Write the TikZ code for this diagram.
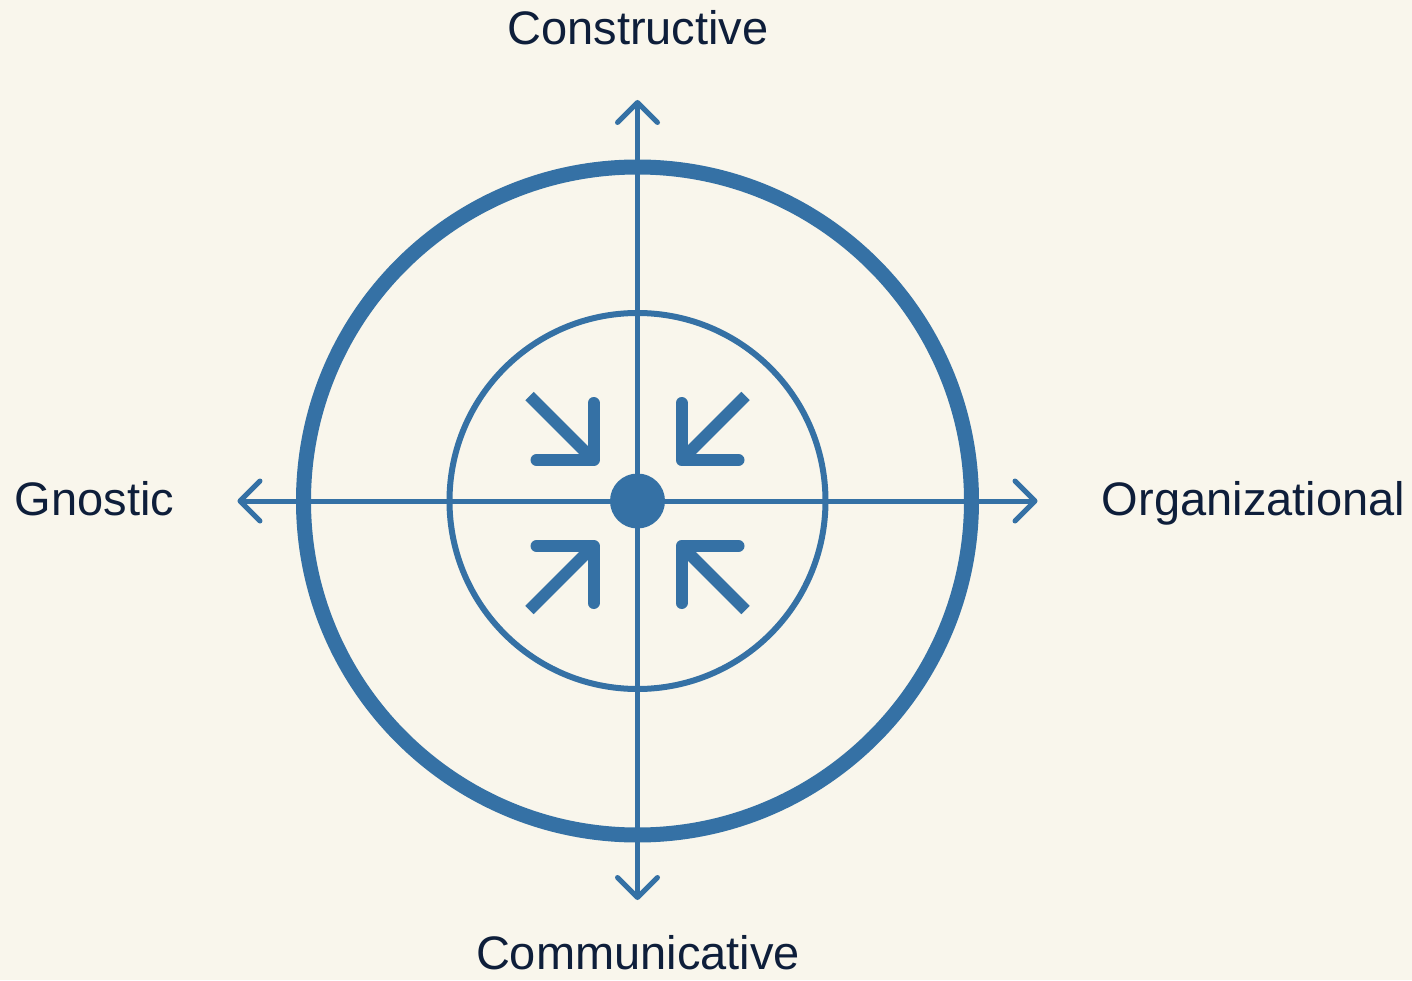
\documentclass[tikz,border=0pt]{standalone}
\usepackage{fontspec}
\setmainfont{Liberation Sans}
\usetikzlibrary{arrows.meta}
\definecolor{CompassBlue}{RGB}{53,113,165}
\definecolor{CompassInk}{RGB}{14,30,58}
\definecolor{CompassPaper}{RGB}{249,246,236}

\begin{document}
\begin{tikzpicture}[x=1pt, y=1pt,
    axis/.style={CompassBlue, line width=5pt,
        {Straight Barb[length=20pt,width=40pt,round]}-{Straight Barb[length=20pt,width=40pt,round]}},
    pointer/.style={CompassBlue, line width=12pt},
    pointerleg/.style={CompassBlue, line width=12pt, line cap=round, line join=round},
    polename/.style={CompassInk, font=\fontsize{47}{51}\selectfont, anchor=base, inner sep=0pt}]
    % Paper
    \fill[CompassPaper] (-637.5,-479) rectangle (774.5,501);
    \useasboundingbox (-637.5,-479) rectangle (774.5,501);

    % Rings
    \draw[CompassBlue, line width=15pt] (0,0) circle (334pt);
    \draw[CompassBlue, line width=6pt] (0,0) circle (188pt);

    % Axes
    \coordinate (north) at (0,401);
    \coordinate (south) at (0,-399);
    \coordinate (west) at (-400,0);
    \coordinate (east) at (400,0);
    \draw[axis] (west) -- (east);
    \draw[axis] (north) -- (south);

    % Centre
    \node[circle, fill=CompassBlue, minimum size=55pt, inner sep=0pt] (core) at (0,0) {};

    % Pointers, upper left
    \draw[pointer] (-108,105) -- (-44,41);
    \draw[pointerleg] (-101,41) -- (-44,41) -- (-44,98);
    % upper right
    \draw[pointer] (108,105) -- (44,41);
    \draw[pointerleg] (101,41) -- (44,41) -- (44,98);
    % lower left
    \draw[pointer] (-108,-109) -- (-44,-45);
    \draw[pointerleg] (-101,-45) -- (-44,-45) -- (-44,-102);
    % lower right
    \draw[pointer] (108,-109) -- (44,-45);
    \draw[pointerleg] (101,-45) -- (44,-45) -- (44,-102);

    % Pole names
    \node[polename] (constructive) at (0.5,456) {Constructive};
    \node[polename] (communicative) at (0.5,-468) {Communicative};
    \node[polename] (gnostic) at (-543,-14) {Gnostic};
    \node[polename] (organizational) at (616,-14) {Organizational};
\end{tikzpicture}
\end{document}
